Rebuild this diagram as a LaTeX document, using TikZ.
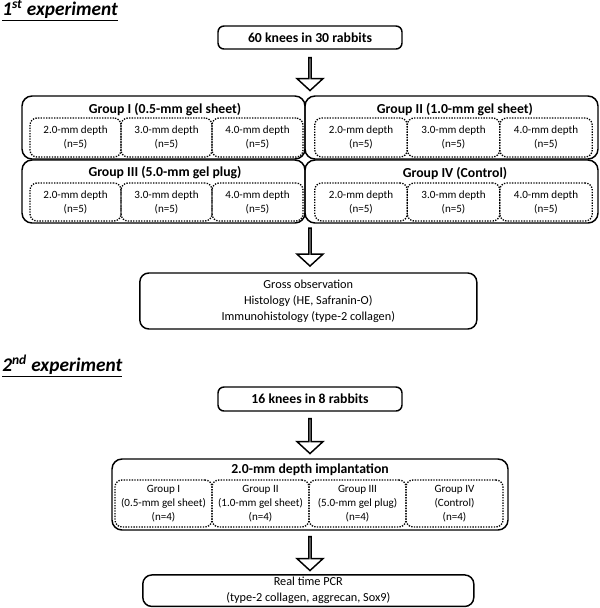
\documentclass[tikz,border=0pt]{standalone}
\usepackage{fontspec}
\setmainfont{Carlito}
\usetikzlibrary{shapes.arrows}
\newdimen\px \px=0.75pt

\begin{document}
\begin{tikzpicture}[x=0.75pt, y=-0.75pt,
    headline/.style={anchor=base west, inner sep=0pt, font=\fontsize{14.5}{16}\selectfont\bfseries\itshape},
    startbox/.style={rectangle, rounded corners=6*\px, draw, line width=1.1pt, inner sep=0pt,
                minimum width=184*\px, minimum height=23*\px, font=\fontsize{10.3}{12}\selectfont\bfseries},
    grpbox/.style={rectangle, rounded corners=10*\px, draw, line width=1.1pt, minimum height=63*\px},
    grptitle/.style={inner sep=0pt, font=\fontsize{10.3}{12}\selectfont\bfseries},
    subbox/.style={rectangle, rounded corners=7*\px, draw, densely dotted, line width=1pt, inner sep=0pt,
                align=center, font=\fontsize{8.3}{10.5}\selectfont},
    resbox/.style={rectangle, rounded corners=9*\px, draw, line width=1.1pt, inner sep=0pt,
                align=center, font=\fontsize{9.2}{11.9}\selectfont},
    downarrow/.style={single arrow, draw, line width=1.1pt, rotate=-90, inner sep=0pt,
                minimum width=26*\px, single arrow head extend=7.5*\px, single arrow tip angle=95}]

    \useasboundingbox (0,0) rectangle (600,608);

    % 1st experiment
    \node[headline] (exp1) at (2,15.5) {\underline{1\textsuperscript{st} experiment}};
    \node[startbox] (knees1) at (310,37.5) {60 knees in 30 rabbits};
    \node[downarrow, minimum height=33*\px] (arr1) at (310,73.5) {};

    % Group I
    \node[grpbox, minimum width=283*\px] (grp1) at (163.5,127.5) {};
    \node[grptitle] (grp1t) at (165,110) {Group I (0.5-mm gel sheet)};
    \node[subbox, minimum width=91*\px, minimum height=39*\px] (g1a) at (75.5,137.5) {2.0-mm depth\\(n=5)};
    \node[subbox, minimum width=91*\px, minimum height=39*\px] (g1b) at (166.5,137.5) {3.0-mm depth\\(n=5)};
    \node[subbox, minimum width=91*\px, minimum height=39*\px] (g1c) at (257.5,137.5) {4.0-mm depth\\(n=5)};

    % Group II
    \node[grpbox, minimum width=293*\px] (grp2) at (451.5,127.5) {};
    \node[grptitle] (grp2t) at (455,110) {Group II (1.0-mm gel sheet)};
    \node[subbox, minimum width=92.5*\px, minimum height=39*\px] (g2a) at (361,137.5) {2.0-mm depth\\(n=5)};
    \node[subbox, minimum width=92.5*\px, minimum height=39*\px] (g2b) at (453.5,137.5) {3.0-mm depth\\(n=5)};
    \node[subbox, minimum width=92.5*\px, minimum height=39*\px] (g2c) at (546,137.5) {4.0-mm depth\\(n=5)};

    % Group III
    \node[grpbox, minimum width=283*\px] (grp3) at (163.5,191.5) {};
    \node[grptitle] (grp3t) at (165,173) {Group III (5.0-mm gel plug)};
    \node[subbox, minimum width=91*\px, minimum height=38*\px] (g3a) at (75.5,202) {2.0-mm depth\\(n=5)};
    \node[subbox, minimum width=91*\px, minimum height=38*\px] (g3b) at (166.5,202) {3.0-mm depth\\(n=5)};
    \node[subbox, minimum width=91*\px, minimum height=38*\px] (g3c) at (257.5,202) {4.0-mm depth\\(n=5)};

    % Group IV
    \node[grpbox, minimum width=293*\px] (grp4) at (451.5,191.5) {};
    \node[grptitle] (grp4t) at (455,173) {Group IV (Control)};
    \node[subbox, minimum width=92.5*\px, minimum height=38*\px] (g4a) at (361,202) {2.0-mm depth\\(n=5)};
    \node[subbox, minimum width=92.5*\px, minimum height=38*\px] (g4b) at (453.5,202) {3.0-mm depth\\(n=5)};
    \node[subbox, minimum width=92.5*\px, minimum height=38*\px] (g4c) at (546,202) {4.0-mm depth\\(n=5)};

    \node[downarrow, minimum height=38*\px] (arr2) at (310,246.5) {};

    % Evaluation
    \node[resbox, minimum width=337*\px, minimum height=56*\px] (eval1) at (308.3,301)
        {Gross observation\\Histology (HE, Safranin-O)\\Immunohistology (type-2 collagen)};

    % 2nd experiment
    \node[headline] (exp2) at (2,371) {\underline{2\textsuperscript{nd} experiment}};
    \node[startbox, minimum height=24*\px] (knees2) at (310,399) {16 knees in 8 rabbits};
    \node[downarrow, minimum height=35*\px] (arr3) at (310,435.5) {};

    % Implantation
    \node[grpbox, minimum width=396*\px, minimum height=71*\px] (impl) at (310,494.5) {};
    \node[grptitle] (implt) at (310,470) {2.0-mm depth implantation};
    \node[subbox, minimum width=97*\px, minimum height=47*\px] (im1) at (163.5,503.5) {Group I\\(0.5-mm gel sheet)\\(n=4)};
    \node[subbox, minimum width=97*\px, minimum height=47*\px] (im2) at (260.5,503.5) {Group II\\(1.0-mm gel sheet)\\(n=4)};
    \node[subbox, minimum width=97*\px, minimum height=47*\px] (im3) at (357.5,503.5) {Group III\\(5.0-mm gel plug)\\(n=4)};
    \node[subbox, minimum width=97*\px, minimum height=47*\px] (im4) at (454.5,503.5) {Group IV\\(Control)\\(n=4)};

    \node[downarrow, minimum height=34*\px] (arr4) at (310,553) {};

    % PCR
    \node[resbox, minimum width=331*\px, minimum height=31.5*\px] (eval2) at (308.3,590.7)
        {Real time PCR\\(type-2 collagen, aggrecan, Sox9)};
\end{tikzpicture}
\end{document}
